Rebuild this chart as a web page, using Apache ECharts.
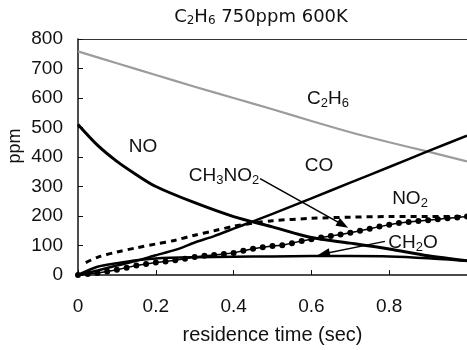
<!DOCTYPE html>
<html>
<head>
    <meta charset="utf-8">
    <title>C2H6 750ppm 600K</title>
    <script src="https://cdn.jsdelivr.net/npm/echarts@6/dist/echarts.min.js"></script>
</head>
<body style="margin:0">
    <div id="main" style="width:467px;height:350px;"></div>
    <script type="text/javascript">

    // residence time (sec) vs ppm
    var tC2H6 = [0, 0.1, 0.2, 0.3, 0.4, 0.5, 0.6, 0.7, 0.8, 0.9, 1.0];
    var vC2H6 = [758, 718, 678, 638, 600, 562, 522, 484, 450, 418, 385];

    var tNO = [0, 0.05, 0.1, 0.15, 0.2, 0.3, 0.4, 0.5, 0.6, 0.7, 0.8, 0.9, 1.0];
    var vNO = [510, 440, 385, 340, 300, 245, 198, 163, 127, 108, 88, 65, 48];

    var tCO = [0, 0.05, 0.1, 0.15, 0.2, 0.25, 0.3, 0.35, 0.4, 0.45, 0.5, 0.6, 0.7, 0.8, 0.9, 1.0];
    var vCO = [0, 15, 32, 48, 67, 85, 110, 132, 157, 182, 207, 260, 313, 366, 420, 472];

    var tNO2 = [0.02, 0.05, 0.1, 0.15, 0.2, 0.25, 0.3, 0.35, 0.4, 0.45, 0.5, 0.6, 0.7, 0.8, 0.9, 1.0];
    var vNO2 = [42, 60, 78, 92, 105, 118, 135, 150, 165, 176, 184, 192, 196, 198, 198, 198];

    var tCH2O = [0, 0.05, 0.1, 0.15, 0.2, 0.3, 0.4, 0.5, 0.6, 0.7, 0.8, 0.9, 1.0];
    var vCH2O = [0, 28, 40, 50, 56, 60, 62, 63, 64, 64, 63, 57, 48];

    var tCH3NO2 = [0, 0.025, 0.05, 0.075, 0.1, 0.125, 0.15, 0.175, 0.2, 0.225, 0.25, 0.275, 0.3, 0.325,
        0.35, 0.375, 0.4, 0.425, 0.45, 0.475, 0.5, 0.525, 0.55, 0.575, 0.6, 0.625, 0.65, 0.675, 0.7,
        0.725, 0.75, 0.775, 0.8, 0.825, 0.85, 0.875, 0.9, 0.925, 0.95, 0.975, 1.0];
    var vCH3NO2 = [0, 3, 7, 12, 18, 25, 32, 37, 42, 46, 50, 55, 61, 65,
        68, 71, 75, 82, 89, 94, 98, 101, 108, 115, 121, 127, 132, 137, 143,
        150, 157, 164, 170, 176, 180, 183, 186, 189, 192, 195, 198];

    // arrows from the labels (in data units)
    var arrowCH3NO2 = [[0.468, 327], [0.681, 170]];
    var arrowCH2O = [[0.789, 114], [0.632, 72]];

    function pairs(t, v) {
        return t.map(function (x, i) { return [x, v[i]]; });
    }

    var FONT = 'Liberation Sans, Arial, sans-serif';
    var TFONT = 'DejaVu Sans, sans-serif';
    var sub = {
        a: { fontSize: 19, fontFamily: FONT, fill: '#111', lineHeight: 22 },
        s: { fontSize: 13, fontFamily: FONT, fill: '#111', verticalAlign: 'bottom', lineHeight: 22 }
    };
    var subT = {
        a: { fontSize: 18, fontFamily: TFONT, fill: '#111', lineHeight: 20 },
        s: { fontSize: 12, fontFamily: TFONT, fill: '#111', verticalAlign: 'bottom', lineHeight: 20 }
    };

    function label(x, y, text, rich) {
        return {
            type: 'text', x: x, y: y, z: 100,
            style: { text: text, rich: rich || sub, align: 'center', verticalAlign: 'middle', fill: '#111' }
        };
    }

    var myChart = echarts.init(document.getElementById('main'));

    var option = {
        animation: false,
        backgroundColor: '#fff',
        grid: { left: 78, right: 0, top: 39, bottom: 73 },
        xAxis: [{
            type: 'value', min: 0, max: 1, interval: 0.2,
            name: 'residence time (sec)', nameLocation: 'middle', nameGap: 50,
            nameTextStyle: { fontSize: 20, fontFamily: FONT, color: '#111' },
            axisLine: { lineStyle: { color: '#111', width: 1.5 } },
            axisTick: { inside: true, length: 5, lineStyle: { color: '#111' } },
            axisLabel: { fontSize: 19, fontFamily: FONT, color: '#111', margin: 22, showMaxLabel: false },
            splitLine: { show: false }
        }, {
            type: 'value', position: 'top', min: 0, max: 1,
            axisLine: { show: true, lineStyle: { color: '#333', width: 1 } },
            axisTick: { show: false }, axisLabel: { show: false }, splitLine: { show: false }
        }],
        yAxis: {
            type: 'value', min: 0, max: 800, interval: 100,
            axisLine: { show: true, lineStyle: { color: '#111', width: 1.5 } },
            axisTick: { show: true, inside: true, length: 5, lineStyle: { color: '#111' } },
            axisLabel: { fontSize: 19, fontFamily: FONT, color: '#111', margin: 15 },
            splitLine: { show: false }
        },
        graphic: [
            label(261, 17, '{a|C}{s|2}{a|H}{s|6}{a| 750ppm 600K}', subT),
            {
                type: 'text', x: 15, y: 146, rotation: Math.PI / 2,
                style: { text: 'ppm', font: '18px ' + FONT, fill: '#111', align: 'center', verticalAlign: 'middle' }
            },
            label(328, 99, '{a|C}{s|2}{a|H}{s|6}'),
            label(143, 147, '{a|NO}'),
            label(224, 176, '{a|CH}{s|3}{a|NO}{s|2}'),
            label(319, 166, '{a|CO}'),
            label(410, 199, '{a|NO}{s|2}'),
            label(413, 243, '{a|CH}{s|2}{a|O}')
        ],
        series: [
            {
                name: 'C2H6', type: 'line', showSymbol: false, z: 1, smooth: 0.3,
                lineStyle: { color: '#9c9c9c', width: 2.2 },
                data: pairs(tC2H6, vC2H6)
            },
            {
                name: 'NO', type: 'line', showSymbol: false, smooth: 0.3,
                lineStyle: { color: '#000', width: 3 },
                data: pairs(tNO, vNO)
            },
            {
                name: 'CO', type: 'line', showSymbol: false, smooth: 0.2,
                lineStyle: { color: '#000', width: 2.5 },
                data: pairs(tCO, vCO)
            },
            {
                name: 'NO2', type: 'line', showSymbol: false, smooth: 0.3,
                lineStyle: { color: '#000', width: 3, type: [6, 5] },
                data: pairs(tNO2, vNO2)
            },
            {
                name: 'CH2O', type: 'line', showSymbol: false, smooth: 0.3,
                lineStyle: { color: '#000', width: 2.5 },
                data: pairs(tCH2O, vCH2O),
                markLine: {
                    silent: true, symbol: ['none', 'triangle'], symbolSize: [9, 12], label: { show: false },
                    lineStyle: { color: '#000', width: 1.5, type: 'solid' },
                    data: [
                        [{ coord: arrowCH3NO2[0] }, { coord: arrowCH3NO2[1] }],
                        [{ coord: arrowCH2O[0] }, { coord: arrowCH2O[1] }]
                    ]
                }
            },
            {
                name: 'CH3NO2', type: 'line', symbol: 'circle', symbolSize: 6, showAllSymbol: true,
                itemStyle: { color: '#000' },
                lineStyle: { color: '#000', width: 1.5 },
                data: pairs(tCH3NO2, vCH3NO2)
            }
        ]
    };

    myChart.setOption(option);
    </script>
</body>
</html>
